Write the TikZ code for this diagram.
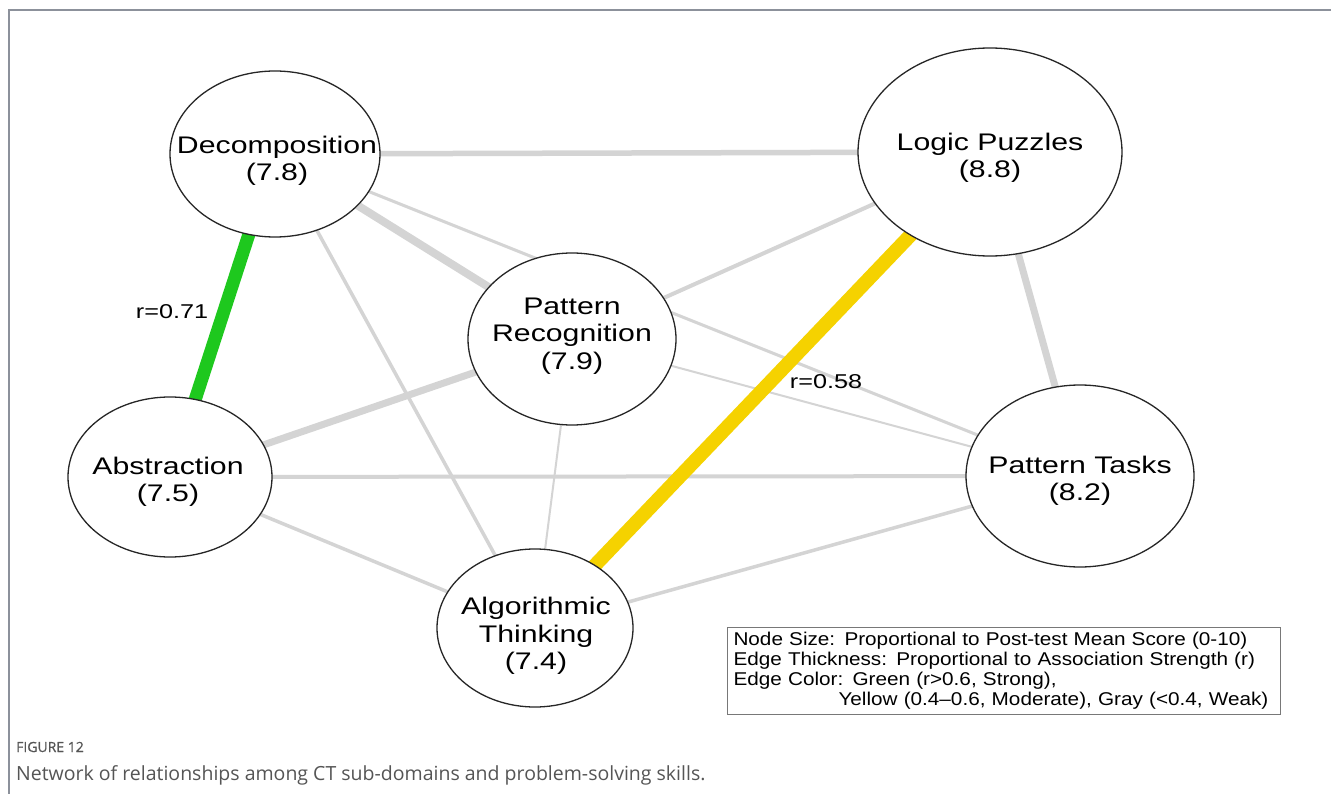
\documentclass[tikz,border=0pt]{standalone}
\usepackage{fontspec}
\setmainfont{Liberation Sans}
\newfontfamily\nodefont[FakeStretch=1.26]{Liberation Sans}
\newfontfamily\legfont[FakeStretch=1.12]{Liberation Sans}
\newfontfamily\capfont{Open Sans}
\newfontfamily\capboldfont[FakeBold=0.6]{Open Sans}
\usetikzlibrary{shapes.geometric,backgrounds}
\definecolor{edgegray}{RGB}{212,212,212}
\definecolor{egreen}{RGB}{30,200,30}
\definecolor{eyellow}{RGB}{245,210,0}
\definecolor{framegray}{RGB}{140,145,155}
\definecolor{captext}{RGB}{85,85,85}
\definecolor{legborder}{RGB}{120,120,120}
\begin{document}
\begin{tikzpicture}[x=1pt,y=-1pt,
  skill/.style={ellipse, draw=black!85, line width=1.3pt, fill=white, inner sep=0pt},
  skilltext/.style={align=center, inner sep=0pt, font=\nodefont\fontsize{24}{27.5}\selectfont},
  rel/.style={draw=edgegray, line width=#1},
  strong/.style={draw=egreen, line width=13},
  moderate/.style={draw=eyellow, line width=14},
  rlabel/.style={font=\nodefont\fontsize{20}{22}\selectfont, inner sep=0pt}]
\useasboundingbox (0,0) rectangle (1331,794);
% frame
\draw[framegray, line width=1.5] (1331,10) -- (9,10) -- (9,794);
% nodes (ellipses)
\node[skill, minimum width=210, minimum height=166] (dec) at (275,154) {};
\node[skill, minimum width=264, minimum height=208] (lp) at (990,152) {};
\node[skill, minimum width=208, minimum height=172] (pr) at (572,339) {};
\node[skill, minimum width=204, minimum height=160] (ab) at (170,477) {};
\node[skill, minimum width=196, minimum height=158] (at) at (535,628) {};
\node[skill, minimum width=228, minimum height=182] (pt) at (1080,476) {};
% node texts
\node[skilltext] (dect) at (277,161) {Decomposition\\(7.8)};
\node[skilltext] (lpt) at (990,158) {Logic Puzzles\\(8.8)};
\node[skilltext] (prt) at (572,336) {Pattern\\Recognition\\(7.9)};
\node[skilltext] (abt) at (168,482) {Abstraction\\(7.5)};
\node[skilltext] (att) at (536,636) {Algorithmic\\Thinking\\(7.4)};
\node[skilltext] (ptt) at (1080,481) {Pattern Tasks\\(8.2)};
% edges
\begin{scope}[on background layer]
\fill[white] (0,0) rectangle (1331,794);
\draw[rel=5.5] (dec.center) -- (lp.center);
\draw[rel=8] (dec.center) -- (pr.center);
\draw[rel=3] (dec.center) -- (pt.center);
\draw[rel=3.5] (dec.center) -- (at.center);
\draw[rel=4] (lp.center) -- (pr.center);
\draw[rel=7] (lp.center) -- (pt.center);
\draw[rel=7] (pr.center) -- (ab.center);
\draw[rel=2] (pr.center) -- (at.center);
\draw[rel=2] (pr.center) -- (pt.center);
\draw[rel=4] (ab.center) -- (pt.center);
\draw[rel=3.5] (ab.center) -- (at.center);
\draw[rel=3.5] (at.center) -- (pt.center);
\draw[strong] (dec.center) -- (ab.center);
\draw[moderate] (lp.center) -- (at.center);
\end{scope}
% labels
\node[rlabel] (l71) at (172,312) {r=0.71};
\node[rlabel] (l58) at (826,382) {r=0.58};
% legend
\node[draw=legborder, line width=1, anchor=north west, inner xsep=6, inner ysep=5,
  text width=541, align=left, font=\legfont\fontsize{18.5}{20}\selectfont] (legend) at (727,627)
  {Node Size: Proportional to Post-test Mean Score (0-10)\\
   Edge Thickness: Proportional to Association Strength (r)\\
   Edge Color: Green (r>0.6, Strong),\\
   \hspace*{105pt}Yellow (0.4–0.6, Moderate), Gray (<0.4, Weak)};
% caption
\node[anchor=base west, inner sep=0pt, text=captext, font=\capboldfont\fontsize{14}{16}\selectfont] (fig) at (16,752) {FIGURE 12};
\node[anchor=base west, inner sep=0pt, text=captext, font=\capfont\fontsize{19.5}{22}\selectfont] (cap) at (16,780) {Network of relationships among CT sub-domains and problem-solving skills.};
\end{tikzpicture}
\end{document}
